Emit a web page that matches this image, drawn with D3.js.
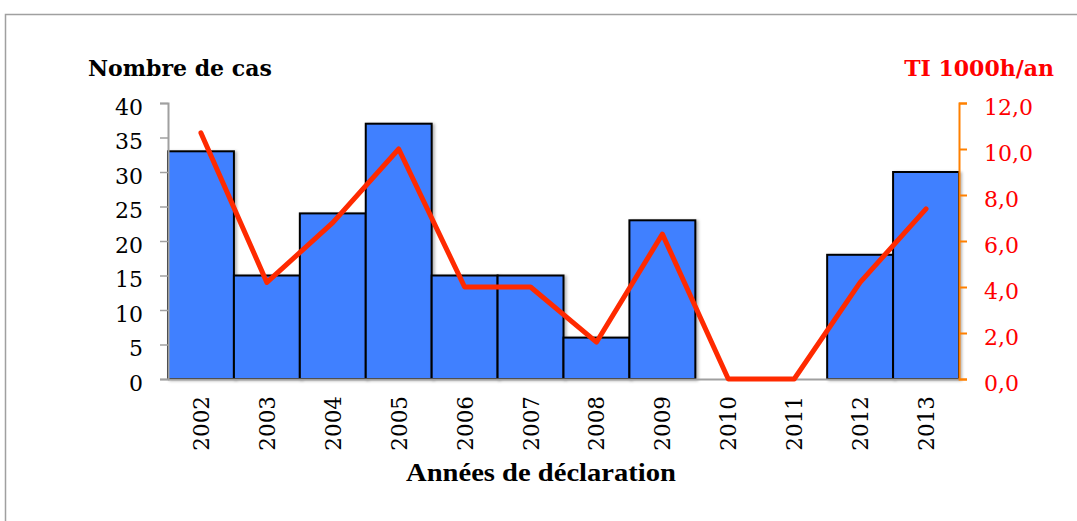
<!DOCTYPE html>
<html>
<head>
<meta charset="utf-8">
<script src="https://cdn.jsdelivr.net/npm/d3@7"></script>
<style>
  body { margin: 0; background: #fff; }
  svg { display: block; }
</style>
</head>
<body>
<div id="chart"></div>
<script>
const years = ['2002', '2003', '2004', '2005', '2006', '2007', '2008', '2009', '2010', '2011', '2012', '2013'];
const cases = [33, 15, 24, 37, 15, 15, 6, 23, 0, 0, 18, 30];
const rate = [10.7, 4.2, 6.8, 10.0, 4.0, 4.0, 1.6, 6.3, 0, 0, 4.2, 7.4];
const leftTicks = [0, 5, 10, 15, 20, 25, 30, 35, 40];
const rightTicks = [0, 2, 4, 6, 8, 10, 12];

const width = 1077;
const height = 521;
const margin = { top: 103, right: 118, bottom: 142, left: 168 };
const font = '"DejaVu Serif", "Liberation Serif", serif';
const font2 = '"Liberation Serif", serif';

const svg = d3
  .select('#chart')
  .append('svg')
  .attr('width', width)
  .attr('height', height);

// frame
svg
  .append('path')
  .attr('d', `M5.5,${height} V14.5 H${width}`)
  .attr('fill', 'none')
  .attr('stroke', '#a0a0a0')
  .attr('stroke-width', 1.5);

const x = d3
  .scaleBand()
  .domain(years)
  .range([margin.left, width - margin.right])
  .padding(0);

const yLeft = d3
  .scaleLinear()
  .domain([0, 40])
  .range([height - margin.bottom, margin.top]);

const yRight = d3
  .scaleLinear()
  .domain([0, 12])
  .range([height - margin.bottom, margin.top]);

// shadow for bars
const defs = svg.append('defs');
const shadow = defs.append('filter').attr('id', 'shadow').attr('x', '-10%').attr('y', '-10%').attr('width', '130%').attr('height', '130%');
shadow.append('feDropShadow').attr('dx', 2).attr('dy', 1).attr('stdDeviation', 1.5).attr('flood-color', '#000').attr('flood-opacity', 0.3);

// bars
svg
  .append('g')
  .selectAll('rect')
  .data(years.filter((d, i) => cases[i] > 0))
  .join('rect')
  .attr('x', (d) => x(d))
  .attr('y', (d) => yLeft(cases[years.indexOf(d)]))
  .attr('width', x.bandwidth())
  .attr('height', (d) => yLeft(0) - yLeft(cases[years.indexOf(d)]))
  .attr('fill', '#4080ff')
  .attr('stroke', '#000')
  .attr('stroke-width', 2)
  .attr('filter', 'url(#shadow)');

// left axis
const leftAxis = svg
  .append('g')
  .attr('transform', `translate(${margin.left},0)`)
  .call(d3.axisLeft(yLeft).tickValues(leftTicks).tickSize(8).tickPadding(17));
leftAxis.select('.domain').attr('stroke', '#a0a0a0').attr('stroke-width', 2);
leftAxis.selectAll('.tick line').attr('stroke', '#a0a0a0').attr('stroke-width', 1.5);
leftAxis
  .selectAll('.tick text')
  .attr('font-family', font)
  .attr('font-size', 22)
  .attr('dy', '0.5em')
  .attr('fill', '#000');

// bottom axis line
svg
  .append('line')
  .attr('x1', margin.left)
  .attr('x2', width - margin.right)
  .attr('y1', yLeft(0) + 0.5)
  .attr('y2', yLeft(0) + 0.5)
  .attr('stroke', '#a0a0a0')
  .attr('stroke-width', 2);

// right axis
const rightAxis = svg
  .append('g')
  .attr('transform', `translate(${width - margin.right},0)`)
  .call(
    d3
      .axisRight(yRight)
      .tickValues(rightTicks)
      .tickSize(8)
      .tickPadding(17)
      .tickFormat((d) => d3.format('.1f')(d).replace('.', ','))
  );
rightAxis.select('.domain').attr('stroke', '#ff8000').attr('stroke-width', 2);
rightAxis.selectAll('.tick line').attr('stroke', '#ff8000').attr('stroke-width', 2);
rightAxis
  .selectAll('.tick text')
  .attr('font-family', font)
  .attr('font-size', 22)
  .attr('dy', '0.5em')
  .attr('fill', '#ff0000');

// rate line
const line = d3
  .line()
  .x((d, i) => x(years[i]) + x.bandwidth() / 2)
  .y((d) => yRight(d));

svg
  .append('path')
  .datum(rate)
  .attr('d', line)
  .attr('fill', 'none')
  .attr('stroke', '#ff2a00')
  .attr('stroke-width', 5)
  .attr('stroke-linejoin', 'round')
  .attr('stroke-linecap', 'round');

// x labels, rotated
svg
  .append('g')
  .selectAll('text')
  .data(years)
  .join('text')
  .attr('transform', (d) => `translate(${x(d) + x.bandwidth() / 2 + 8},396) rotate(-90)`)
  .attr('text-anchor', 'end')
  .attr('font-family', font)
  .attr('font-size', 21.5)
  .attr('fill', '#000')
  .text((d) => d);

// titles
svg
  .append('text')
  .attr('x', 88)
  .attr('y', 76)
  .attr('font-family', font)
  .attr('font-weight', 'bold')
  .attr('font-size', 22)
  .attr('fill', '#000')
  .text('Nombre de cas');

svg
  .append('text')
  .attr('x', 1054)
  .attr('y', 76)
  .attr('text-anchor', 'end')
  .attr('font-family', font)
  .attr('font-weight', 'bold')
  .attr('font-size', 22)
  .attr('fill', '#ff0000')
  .text('TI 1000h/an');

svg
  .append('text')
  .attr('x', 541)
  .attr('y', 481)
  .attr('text-anchor', 'middle')
  .attr('font-family', font2)
  .attr('font-weight', 'bold')
  .attr('font-size', 26)
  .attr('textLength', 270)
  .attr('lengthAdjust', 'spacingAndGlyphs')
  .attr('fill', '#000')
  .text('Années de déclaration');
</script>
</body>
</html>
